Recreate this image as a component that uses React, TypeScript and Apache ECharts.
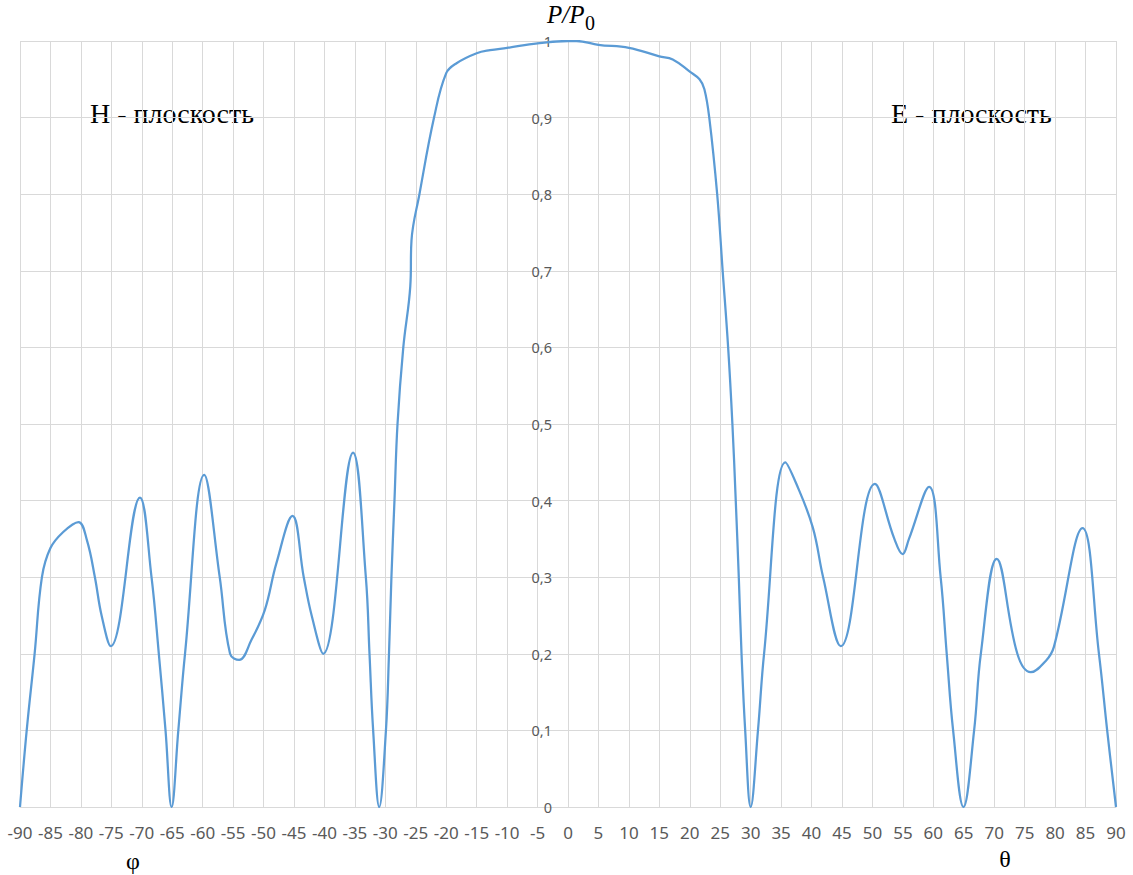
import React, { useEffect, useRef } from "react";
import * as echarts from "echarts";

// H-plane pattern (φ, negative angles)
const hAngles = [
  -90, -88.9, -87.6, -86.4, -85, -82.9, -80.4, -79, -77.7, -76.6, -75.1,
  -70.3, -68.4, -67.2, -66.1, -65.1, -64, -62.9,
  -59.75, -57.2, -55.5, -54, -52, -49.8, -47.9, -45.25, -43.4, -42.1,
  -40.2, -35.3, -33.2, -32.6, -32, -31, -29.9, -29.4,
  -29, -28.5, -28, -27.05, -25.9, -25.7, -24.4, -22, -20, -18.3, -15,
  -12.8, -10, -5,
];
const hPower = [
  0, 0.1, 0.2, 0.3, 0.338, 0.359, 0.372, 0.348, 0.3, 0.25, 0.21,
  0.404, 0.3, 0.2, 0.1, 0, 0.1, 0.2,
  0.4335, 0.3, 0.2, 0.192, 0.218, 0.257, 0.318, 0.38, 0.3, 0.25,
  0.2, 0.4627, 0.3, 0.2, 0.1, 0, 0.1, 0.2,
  0.3, 0.4, 0.5, 0.6, 0.68, 0.74, 0.8, 0.9, 0.958, 0.971, 0.984,
  0.988, 0.991, 0.997,
];

// E-plane pattern (θ, zero and positive angles)
const eAngles = [
  0, 1.4, 5, 10, 15, 17.2, 20, 21.6, 22.4, 23.2, 24.5, 25.4, 26.3, 27,
  27.55, 28.05, 28.5, 29.1, 30, 31.2, 32.2, 35.7, 37.5, 40.2,
  41.9, 44.8, 50.4, 53.6, 54.95, 56, 59.3,
  61.2, 62.2, 63.25, 64.95, 66.7, 67.8, 70.4, 73.8, 76, 78.5,
  79.8, 84.5, 87.2, 88.55, 90,
];
const ePower = [
  1.0, 1.0, 0.995, 0.991, 0.98, 0.976, 0.96, 0.95, 0.937, 0.9, 0.8, 0.7, 0.6, 0.5,
  0.4, 0.3, 0.2, 0.1, 0, 0.1, 0.2, 0.45, 0.422, 0.365,
  0.3, 0.21, 0.4217, 0.35, 0.33, 0.35, 0.418,
  0.3, 0.2, 0.1, 0, 0.1, 0.2, 0.324, 0.2, 0.176, 0.191,
  0.209, 0.364, 0.2, 0.1, 0,
];

const xTicks = { min: -90, max: 90, step: 5 };
const yTicks = { min: 0, max: 1, step: 0.1 };

const hPlaneLabel = "H - плоскость";
const ePlaneLabel = "E - плоскость";

const WIDTH = 1133;
const HEIGHT = 875;
const GRID = { left: 20, right: 17, top: 41, bottom: 68 };

export default function App() {
  const ref = useRef<HTMLDivElement>(null);

  useEffect(() => {
    if (!ref.current) return;
    const chart = echarts.init(ref.current, null, { renderer: "svg" });

    const points: [number, number][] = [
      ...hAngles.map((a, i) => [a, hPower[i]] as [number, number]),
      ...eAngles.map((a, i) => [a, ePower[i]] as [number, number]),
    ];

    // the value axis sits at angle 0, inside the plot
    const plotWidth = WIDTH - GRID.left - GRID.right;
    const zeroOffset =
      ((0 - xTicks.min) / (xTicks.max - xTicks.min)) * plotWidth;

    const gridColor = "#d9d9d9";
    const labelColor = "#595959";
    const serif = "'Liberation Serif', 'DejaVu Serif', serif";

    chart.setOption({
      animation: false,
      backgroundColor: "#ffffff",
      grid: {
        ...GRID,
        containLabel: false,
        outerBoundsMode: "none",
      },
      xAxis: {
        type: "value",
        min: xTicks.min,
        max: xTicks.max,
        interval: xTicks.step,
        axisLine: { show: true, lineStyle: { color: gridColor, width: 1 } },
        axisTick: { show: false },
        splitLine: { show: true, lineStyle: { color: gridColor, width: 1 } },
        axisLabel: {
          color: labelColor,
          fontSize: 17,
          fontFamily: "'Noto Sans', 'Open Sans', sans-serif",
          margin: 17,
          hideOverlap: false,
        },
      },
      yAxis: {
        type: "value",
        position: "left",
        offset: -zeroOffset,
        min: yTicks.min,
        max: yTicks.max,
        interval: yTicks.step,
        axisLine: { show: false, onZero: false },
        axisTick: { show: false },
        splitLine: { show: true, lineStyle: { color: gridColor, width: 1 } },
        axisLabel: {
          color: labelColor,
          fontSize: 14.5,
          fontFamily: "'Noto Sans', 'Open Sans', sans-serif",
          margin: 16,
          formatter: (v: number) => String(Math.round(v * 10) / 10).replace(".", ","),
        },
      },
      series: [
        {
          type: "line",
          data: points,
          smooth: 0.4,
          showSymbol: false,
          symbol: "none",
          lineStyle: { color: "#5b9bd5", width: 2.25 },
          clip: true,
        },
      ],
      graphic: [
        {
          type: "text",
          x: 547,
          y: 27,
          style: {
            text: "P/P",
            font: `italic 25px ${serif}`,
            fill: "#000",
            align: "left",
            verticalAlign: "bottom",
          },
        },
        {
          type: "text",
          x: 585,
          y: 33,
          style: {
            text: "0",
            font: `20px ${serif}`,
            fill: "#000",
            align: "left",
            verticalAlign: "bottom",
          },
        },
        {
          type: "text",
          x: 90,
          y: 113,
          style: {
            text: hPlaneLabel,
            font: `28px ${serif}`,
            fill: "#000",
            align: "left",
            verticalAlign: "middle",
          },
        },
        {
          type: "text",
          x: 891,
          y: 113,
          style: {
            text: ePlaneLabel,
            font: `28px ${serif}`,
            fill: "#000",
            align: "left",
            verticalAlign: "middle",
          },
        },
        {
          type: "text",
          x: 133,
          y: 861,
          style: {
            text: "φ",
            font: `24px ${serif}`,
            fill: "#000",
            align: "center",
            verticalAlign: "middle",
          },
        },
        {
          type: "text",
          x: 1005,
          y: 859,
          style: {
            text: "θ",
            font: `24px ${serif}`,
            fill: "#000",
            align: "center",
            verticalAlign: "middle",
          },
        },
      ],
    });

    return () => chart.dispose();
  }, []);

  return (
    <div
      ref={ref}
      style={{ position: "fixed", left: 0, top: 0, width: WIDTH, height: HEIGHT }}
    />
  );
}
